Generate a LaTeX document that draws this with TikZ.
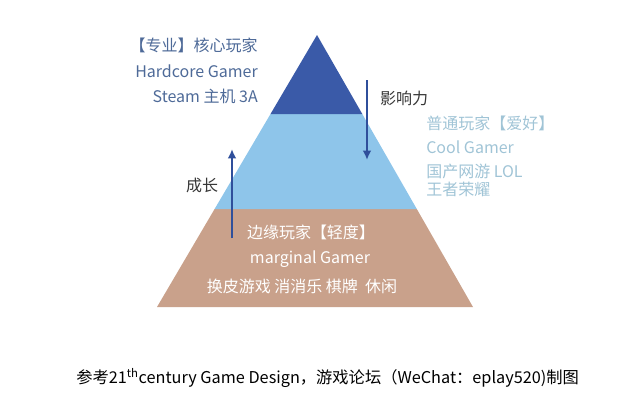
\documentclass[tikz,border=0pt]{standalone}
\usepackage{fontspec}
\usepackage[usenames,dvipsnames]{xcolor}
\usepackage{tikz}
\usetikzlibrary{arrows.meta}

\newfontfamily\cjk{Noto Sans CJK SC}

\definecolor{topblue}{RGB}{58,90,168}
\definecolor{midblue}{RGB}{142,197,234}
\definecolor{basetan}{RGB}{201,161,139}
\definecolor{arrowblue}{RGB}{47,79,155}
\definecolor{coretext}{RGB}{78,106,152}
\definecolor{cooltext}{RGB}{160,196,214}
\definecolor{labeltext}{RGB}{55,55,55}

\tikzset{
  txt/.style={font=\cjk\fontsize{12}{14}\selectfont, inner sep=0pt},
  flow/.style={line width=2pt, arrowblue, -{Latex[length=7pt, width=6.5pt]}}
}

\begin{document}
\begin{tikzpicture}[x=0.75pt, y=-0.75pt]
    \useasboundingbox (0,0) rectangle (644,400);

    % layers of the pyramid
    \fill [basetan]
      (214.6, 209) -- (416.8, 209) -- (473, 307) -- (157, 307) -- cycle;
    \fill [midblue]
      (270.5, 114) -- (362.3, 114) -- (416.8, 209) -- (214.6, 209) -- cycle;
    \fill [topblue]
      (317, 35) -- (362.3, 114) -- (270.5, 114) -- cycle;

    % arrows
    \coordinate (influence start) at (367, 80);
    \coordinate (influence end) at (367, 160);
    \coordinate (growth start) at (232, 238);
    \coordinate (growth end) at (232, 149);
    \draw [flow] (influence start) -- (influence end);
    \draw [flow] (growth start) -- (growth end);

    % labels
    \node [txt, text=coretext, anchor=east] (core1) at (258, 45) {【专业】核心玩家};
    \node [txt, text=coretext, anchor=east] (core2) at (258, 71) {Hardcore Gamer};
    \node [txt, text=coretext, anchor=east] (core3) at (258, 96) {Steam 主机 3A};

    \node [txt, text=labeltext] (influence) at (404, 98) {影响力};
    \node [txt, text=labeltext] (growth) at (202, 185) {成长};

    \node [txt, text=cooltext, anchor=west] (cool1) at (426, 123) {普通玩家【爱好】};
    \node [txt, text=cooltext, anchor=west] (cool2) at (426, 147) {Cool Gamer};
    \node [txt, text=cooltext, anchor=west] (cool3) at (426, 171) {国产网游 LOL};
    \node [txt, text=cooltext, anchor=west] (cool4) at (426, 189) {王者荣耀};

    \node [txt, text=white] (casual1) at (311, 232) {边缘玩家【轻度】};
    \node [txt, text=white] (casual2) at (310, 259) {marginal Gamer};
    \node [txt, text=white] (casual3) at (302, 286) {换皮游戏 消消乐 棋牌 \ 休闲};

    \node [txt, text=black, anchor=west, font=\cjk\fontsize{12.2}{14}\selectfont] (source) at (76, 378)
      {参考21\textsuperscript{th}century Game Design，游戏论坛（WeChat：eplay520)制图};
\end{tikzpicture}
\end{document}
